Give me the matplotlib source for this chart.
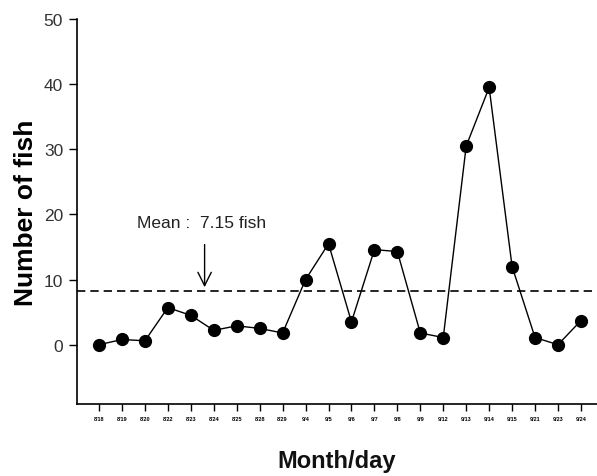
import matplotlib
matplotlib.use("Agg")
import matplotlib.pyplot as plt

dates = ["8/18", "8/19", "8/20", "8/22", "8/23", "8/24", "8/25", "8/28", "8/29", "9/4", "9/5",
         "9/6", "9/7", "9/8", "9/9", "9/12", "9/13", "9/14", "9/15", "9/21", "9/23", "9/24"]
fish = [0, 0.8, 0.6, 5.7, 4.5, 2.2, 2.9, 2.5, 1.8, 10, 15.5,
        3.5, 14.6, 14.3, 1.8, 1.1, 30.5, 39.5, 12, 1.1, 0, 3.7]
mean_line = 8.2
mean_label = "Mean :  7.15 fish"

plt.rcParams['font.family'] = ['Liberation Sans', 'DejaVu Sans']
fig = plt.figure(figsize=(5.97, 4.77), dpi=100)
ax = fig.add_axes([0.129, 0.151, 0.871, 0.807])
x = list(range(len(dates)))
ax.plot(x, fish, color='black', lw=1.0, marker='o', markersize=8.5, zorder=3)
ax.axhline(mean_line, color='black', lw=1.2, ls=(0, (5, 3)), zorder=2)
ax.annotate("", xy=(4.6, mean_line + 0.2), xytext=(4.6, 15.8),
            arrowprops=dict(arrowstyle='->', color='black', lw=1.0, mutation_scale=24))
ax.text(1.65, 17.6, mean_label, fontsize=12.5, color='#222222', va='bottom')

ax.set_xlim(-0.96, 21.7)
ax.set_ylim(-9.1, 50)
ax.set_yticks([0, 10, 20, 30, 40, 50])
ax.set_xticks(x)
ax.set_xticklabels(dates, fontsize=4, fontweight='bold')
ax.tick_params(axis='y', labelsize=12.5, colors='black', labelcolor='#333333', length=6, width=1, pad=4)
ax.tick_params(axis='x', length=5, width=1, pad=4)
ax.spines['top'].set_visible(False)
ax.spines['right'].set_visible(False)
ax.spines['left'].set_linewidth(1.2)
ax.spines['bottom'].set_linewidth(1.2)
ax.set_ylabel("Number of fish", fontsize=19, fontweight='bold', labelpad=4)
ax.set_xlabel("Month/day", fontsize=17, fontweight='bold', labelpad=20, color='#111111')

fig.savefig("out.png", dpi=100)
